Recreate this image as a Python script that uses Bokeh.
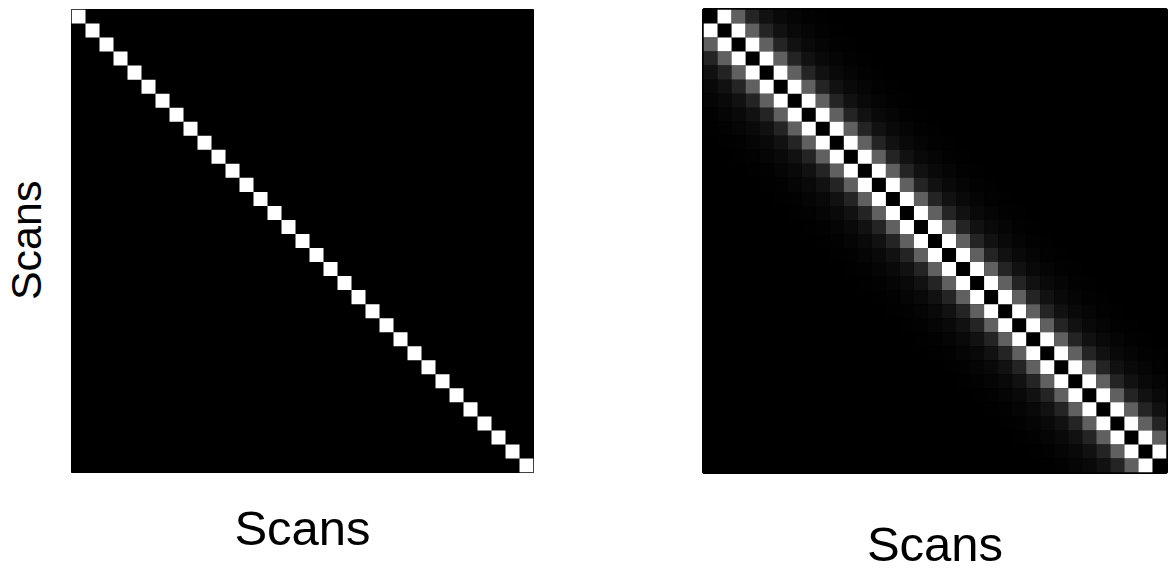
import math

from bokeh.plotting import figure
from bokeh.layouts import row
from bokeh.models import Range1d, FixedTicker, ColumnDataSource
from bokeh.core.properties import value
from bokeh.embed import file_html
from bokeh.resources import INLINE

# Number of scans along each axis of the similarity matrices
n_scans = 33

# Left matrix: each scan matches only itself (grey level on the diagonal)
identity_levels = [255]

# Right matrix: grey level by distance from the diagonal (0 = same scan)
band_levels = [0, 255, 96, 36, 17, 9, 5, 2, 1]

axis_label = "Scans"
label_font = "Liberation Sans"
label_size = "49px"
side_label_size = "43px"

PAGE_H = 570


def grey(level):
    return "#{0:02x}{0:02x}{0:02x}".format(level)


def cells_from_profile(profile):
    xs, ys, colors = [], [], []
    for i in range(n_scans):
        for j in range(n_scans):
            d = abs(i - j)
            level = profile[d] if d < len(profile) else 0
            if level > 0:
                xs.append(j + 0.5)
                ys.append(i + 0.5)
                colors.append(grey(level))
    return ColumnDataSource(dict(x=xs, y=ys, color=colors))


def make_panel(source, left, right, fw, fh, outline_w, label_standoff_x):
    p = figure(
        frame_width=fw, frame_height=fh,
        x_range=Range1d(0, n_scans), y_range=Range1d(n_scans, 0),
        toolbar_location=None, output_backend="svg",
        y_axis_location=None,
        min_border_left=left, min_border_right=right,
        min_border_top=9, min_border_bottom=98,
    )
    p.background_fill_color = "black"
    p.border_fill_color = "white"
    p.outline_line_color = "black"
    p.outline_line_width = outline_w
    p.grid.visible = False
    p.rect(x="x", y="y", width=1, height=1, source=source,
           fill_color="color", line_color=None)
    ax = p.xaxis[0]
    ax.ticker = FixedTicker(ticks=[])
    ax.axis_line_color = None
    ax.major_tick_line_color = None
    ax.minor_tick_line_color = None
    ax.axis_label = axis_label
    ax.axis_label_text_font = label_font
    ax.axis_label_text_font_style = "normal"
    ax.axis_label_text_font_size = label_size
    ax.axis_label_text_color = "black"
    ax.axis_label_standoff = label_standoff_x
    return p


# Narrow strip holding the vertical "Scans" title of the left matrix
title_strip = figure(
    width=71, height=PAGE_H,
    x_range=Range1d(0, 71), y_range=Range1d(0, PAGE_H),
    toolbar_location=None, output_backend="svg",
    x_axis_location=None, y_axis_location=None,
    min_border=0,
)
title_strip.outline_line_color = None
title_strip.grid.visible = False
title_strip.background_fill_color = "white"
title_strip.border_fill_color = "white"
title_strip.text(
    x=[25], y=[PAGE_H - 286], text=[axis_label], angle=math.pi / 2,
    text_align="center", text_baseline="alphabetic",
    text_font=value(label_font), text_font_size=value(side_label_size),
    text_color="black",
)

left_panel = make_panel(cells_from_profile(identity_levels), 0, 67, 462, 463, 1, 28)
right_panel = make_panel(cells_from_profile(band_levels), 103, 6, 463, 463, 3, 44)

layout = row(title_strip, left_panel, right_panel)
open("out.html", "w").write(file_html(layout, INLINE))
